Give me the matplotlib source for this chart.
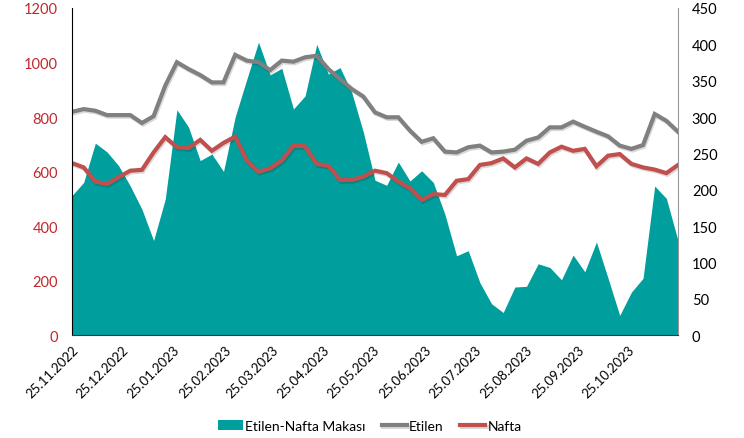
import pandas as pd
import matplotlib.pyplot as plt
import matplotlib.dates as mdates
import matplotlib.patheffects as pe

plt.rcParams['font.family'] = ['Lato', 'DejaVu Sans']

# weekly data, 25.11.2022 - 24.11.2023
dates = pd.date_range('2022-11-25', periods=53, freq='7D')

etilen = [819, 829, 823, 807, 807, 807, 778, 803, 915, 1001, 976, 954, 927, 927,
          1028, 1007, 1001, 972, 1007, 1003, 1019, 1025, 976, 939, 903, 875,
          817, 799, 799, 750, 709, 722, 673, 670, 689, 695, 670, 673, 680, 713,
          725, 762, 762, 783, 764, 746, 729, 695, 683, 697, 811, 786, 746]
nafta = [631, 615, 563, 554, 579, 603, 606, 670, 726, 689, 686, 716, 676, 705,
         728, 640, 599, 612, 640, 695, 692, 628, 621, 569, 569, 581, 603,
         594, 563, 538, 495, 517, 514, 566, 572, 624, 631, 648, 615, 648, 628,
         670, 691, 676, 683, 619, 658, 664, 628, 615, 607, 594, 624]
makas = [192, 210, 264, 252, 233, 205, 173, 130, 187, 310, 286, 240, 249, 225,
         300, 352, 403, 358, 367, 311, 329, 400, 359, 368, 334, 279,
         213, 206, 238, 212, 226, 210,
         166, 109, 116, 72, 43, 31, 66, 67, 98, 93, 76, 110, 87, 128, 78, 27,
         59, 78, 205, 188, 130]

teal = '#009E9C'
grey = '#808080'
red = '#C0504D'

fig = plt.figure(figsize=(7.44, 4.39), dpi=100)
ax = fig.add_axes([0.0968, 0.2346, 0.8145, 0.7449])
ax2 = ax.twinx()

# spread on the right axis, behind the lines
ax2.fill_between(dates, makas, 0, color=teal, lw=0, label='Etilen-Nafta Makası')
ax2.set_ylim(0, 450)
ax2.set_yticks(range(0, 451, 50))

shadow = [pe.SimpleLineShadow(offset=(0.8, -1.2), alpha=0.15), pe.Normal()]
ax.plot(dates, etilen, color=grey, lw=3, label='Etilen', path_effects=shadow,
        solid_joinstyle='miter')
ax.plot(dates, nafta, color=red, lw=3, label='Nafta', path_effects=shadow,
        solid_joinstyle='miter')
ax.set_ylim(0, 1200)
ax.set_yticks(range(0, 1201, 200))
ax.set_xlim(dates[0], dates[-1])

ax.set_zorder(ax2.get_zorder() + 1)
ax.patch.set_visible(False)

ticks = pd.date_range('2022-11-01', '2023-10-25', freq='MS') + pd.Timedelta(days=24)
ax.set_xticks(ticks)
ax.xaxis.set_major_formatter(mdates.DateFormatter('%d.%m.%Y'))
for lbl in ax.get_xticklabels():
    lbl.set_rotation(45)
    lbl.set_ha('right')
    lbl.set_va('top')
    lbl.set_rotation_mode('anchor')

ax.tick_params(axis='x', length=0, labelsize=9.5, pad=6)
ax.tick_params(axis='y', length=0, labelsize=10.5, labelcolor='#C0282D', pad=10)
ax2.tick_params(axis='y', length=0, labelsize=10.5, labelcolor='black', pad=10)

for a in (ax, ax2):
    a.spines['top'].set_visible(False)
ax.spines['right'].set_visible(False)
ax2.spines['left'].set_visible(False)
ax2.spines['bottom'].set_visible(False)
ax2.spines['right'].set_color('#999999')
ax.spines['left'].set_color('black')
ax.spines['bottom'].set_color('#333333')

h2, l2 = ax2.get_legend_handles_labels()
h1, l1 = ax.get_legend_handles_labels()
fig.legend(h2 + h1, l2 + l1, loc='center', bbox_to_anchor=(0.497, 0.028), ncol=3,
           frameon=False, fontsize=10, handlelength=1.8, handletextpad=0.15,
           columnspacing=1.2)

fig.savefig('out.png', dpi=100)
